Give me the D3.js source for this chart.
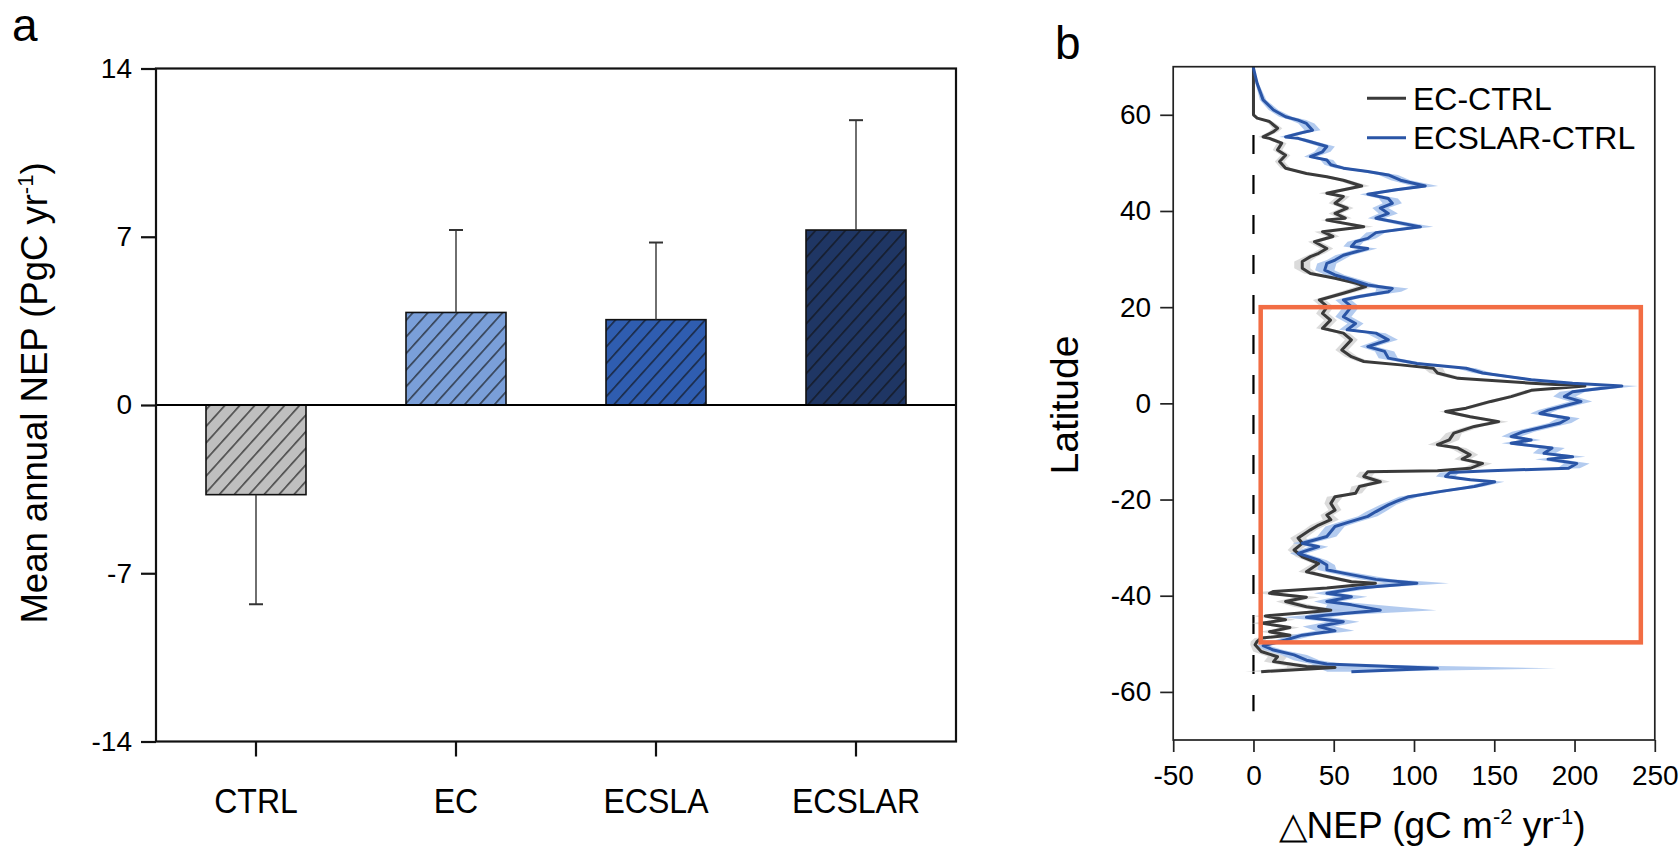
<!DOCTYPE html>
<html>
<head>
<meta charset="utf-8">
<script src="https://cdn.jsdelivr.net/npm/d3@7"></script>
<style>
  html, body { margin: 0; padding: 0; background: #fff; }
  svg text { font-family: "Liberation Sans", Arial, sans-serif; fill: #000; }
</style>
</head>
<body>
<svg id="chart" width="1679" height="847"></svg>
<script>
// ---------------- Panel a data ----------------
const categories = ["CTRL", "EC", "ECSLA", "ECSLAR"];
const meanNEP = [-3.73, 3.85, 3.55, 7.28];
const sdNEP = [4.56, 3.43, 3.21, 4.57];
const barColors = ["#bfbfbf", "#7a9fd9", "#2f5db0", "#1f3664"];
const yTicksA = [-14, -7, 0, 7, 14];

// ---------------- Panel b data ----------------
const ecLat = [70, 66, 62, 60, 59.3, 58.6, 57.2, 56.5, 55.4, 55.1, 54.1, 52.7, 51.6, 50.3, 48.9, 47.8, 47.1, 46.4, 45.2, 43.7,
  43.0, 41.6, 40.6, 39.5, 38.5, 38.1, 36.7, 35.7, 34.7, 33.6, 32.2, 31.2, 30.5, 29.5, 28.1, 27.0, 26.0, 25.0, 24.3, 22.9,
  21.5, 20.1, 18.7, 17.3, 15.6, 14.6, 13.2, 11.1, 9.7, 8.7, 8.0, 7.3, 6.3, 5.2, 4.2, 3.6, 2.7, 1.4, 0.4, -1.0,
  -1.7, -2.8, -3.8, -4.8, -6.2, -7.6, -8.6, -9.3, -10.7, -11.6, -12.5, -13.5, -14.0, -14.2, -15.2, -16.3, -17.3, -18.7, -19.4, -20.8,
  -22.2, -23.2, -24.2, -25.3, -26.3, -28.0, -29.1, -30.5, -31.9, -33.3, -35.0, -36.0, -37.1, -37.4, -38.4, -39.1, -39.5, -40.3, -41.2, -42.3,
  -43.0, -43.5, -44.2, -45.0, -45.7, -46.6, -47.5, -48.2, -48.8, -49.5, -50.2, -51.6, -52.7, -53.7, -54.7, -54.9, -55.8];
const ecVal = [0, 0, 0, 0, 2.3, 10, 15, 12.5, 6, 10, 17.6, 15, 20, 16.3, 20, 33, 45.7, 56, 67.4, 45.7,
  56, 50.8, 58.4, 50.8, 57.2, 45.7, 68.7, 43, 49.5, 38, 45.7, 40.6, 35.5, 30.4, 30.4, 35.5, 50.8, 63.6, 70, 56,
  41, 46, 43, 48, 43, 56, 61, 55, 61, 68.7, 91.6, 112, 114.6, 127.4, 173, 206.5, 173, 160.5, 147.8, 132.5,
  119.7, 135, 152.8, 137.6, 124.8, 122, 114.6, 127.4, 135, 130, 142.7, 135, 114.6, 71.2, 68.7, 79, 66, 63.6, 50.8, 48.2,
  50.8, 45.7, 48.2, 40.6, 35.5, 27.8, 30.4, 25.3, 30.4, 40.6, 33, 45.7, 61, 76, 45.7, 12.5, 10, 33, 20, 33,
  48.2, 33, 7.4, 20, 4.8, 22.7, 10, 22.7, 4.8, 2.3, 1, 4.8, 15, 12.5, 33, 50.8, 4.8];
const ecErr = [0, 0, 0, 0, 1, 2, 3, 3, 3, 3, 3, 3, 3, 3, 3, 3, 4, 4, 5, 5,
  4, 4, 4, 4, 4, 4, 6, 5, 4, 4, 4, 4, 4, 5, 5, 4, 4, 4, 6, 5,
  4, 4, 4, 4, 4, 4, 4, 4, 4, 4, 5, 6, 5, 5, 5, 5, 4, 4, 4, 4,
  4, 5, 6, 5, 5, 6, 6, 5, 5, 5, 6, 5, 5, 5, 5, 6, 5, 4, 5, 4,
  4, 4, 5, 5, 4, 5, 5, 4, 4, 4, 5, 5, 6, 8, 6, 6, 8, 8, 6, 8,
  10, 8, 8, 6, 6, 6, 6, 6, 4, 4, 3, 5, 6, 6, 12, 30, 10];

const ecslarLat = [70, 69.7, 66.5, 63.1, 61.0, 59.6, 58.9, 58.2, 56.8, 56.3, 55.4, 55.1, 54.4, 53.4, 52.3, 51.3, 50.6, 49.6, 48.9, 48.2,
  47.5, 46.4, 45.2, 44.4, 43.5, 42.6, 41.6, 40.6, 39.5, 38.5, 36.7, 35.5, 34.3, 33.6, 32.6, 32.2, 30.8, 29.8, 29.1, 27.7,
  26.7, 25.7, 24.6, 23.9, 23.2, 22.2, 21.5, 20.1, 18.0, 16.6, 15.3, 14.6, 13.2, 11.8, 10.8, 9.4, 8.3, 7.3, 6.3, 4.9,
  4.2, 3.6, 2.4, 1.4, 0.4, -1.4, -2.1, -3.1, -4.1, -5.9, -6.9, -7.6, -8.3, -9.3, -10.4, -11.1, -11.6, -12.5, -13.5, -14.0,
  -14.4, -15.2, -15.9, -16.3, -17.3, -18.3, -19.4, -20.4, -21.1, -22.5, -23.5, -24.8, -25.6, -27.7, -28.4, -29.1, -29.8, -31.2, -32.6, -33.6,
  -34.6, -35.3, -36.6, -37.4, -38.4, -39.5, -40.2, -41.2, -41.9, -43.0, -44.0, -44.5, -45.4, -46.4, -47.3, -48.2, -49.2, -50.4, -51.3, -52.3,
  -53.4, -54.2, -55.1, -55.8];
const ecslarVal = [0, 0, 2.3, 6, 12.5, 20, 27.8, 33, 36.8, 30.4, 20, 27.8, 35.5, 45.7, 43, 35.5, 45.7, 48.2, 56, 71.2,
  84, 91.6, 107, 89, 71.2, 84, 86.5, 79, 84, 76.3, 104, 76.3, 71.2, 63.6, 61, 71.2, 56, 50.8, 45.7, 44.4,
  50.8, 61, 71.2, 86.5, 84, 66, 56, 61, 56, 63.6, 58.4, 76.3, 84, 71.2, 81.7, 84, 101.8, 132.5, 142.7, 173,
  198.8, 229.5, 198.8, 193.7, 204, 183.5, 178.4, 196.3, 191, 168, 160.5, 173, 160.5, 186, 181, 198.8, 183.5, 201.4, 196.3, 147.8,
  122.3, 119.7, 135, 150.3, 137.6, 117.1, 96.7, 89, 84, 76.3, 71.2, 58.4, 50.8, 45.7, 38, 30.4, 40.6, 27.8, 40.6, 45.7,
  45.7, 56, 76.3, 101.8, 66, 45.7, 61, 45.7, 61, 79, 45.7, 33, 56, 40.6, 50.8, 30.4, 20, 6, 12.5, 25.3,
  33, 45.7, 114.6, 61];
const ecslarErr = [0, 0, 1, 2, 3, 4, 5, 5, 5, 4, 4, 4, 4, 5, 5, 4, 4, 4, 5, 5,
  6, 6, 8, 6, 5, 6, 6, 5, 6, 5, 8, 6, 5, 5, 5, 6, 5, 5, 6, 6,
  6, 6, 7, 10, 8, 6, 5, 5, 5, 5, 5, 6, 6, 5, 6, 6, 6, 6, 6, 6,
  7, 10, 8, 7, 7, 6, 6, 7, 7, 7, 6, 6, 6, 8, 7, 8, 8, 8, 7, 6,
  6, 6, 6, 6, 6, 6, 6, 5, 5, 6, 6, 6, 6, 6, 6, 6, 6, 5, 5, 5,
  6, 8, 10, 20, 10, 8, 10, 8, 15, 35, 12, 15, 10, 10, 12, 8, 6, 4, 6, 8,
  8, 10, 74, 15];

const xTicksB = [-50, 0, 50, 100, 150, 200, 250];
const yTicksB = [-60, -40, -20, 0, 20, 40, 60];
const boxLon = [4.5, 241.3];
const boxLat = [-49.7, 20];

// ---------------- drawing ----------------
const fmt = d => String(d); // plain hyphen-minus like the original
const svg = d3.select("#chart");
const defs = svg.append("defs");

barColors.forEach((c, i) => {
  const p = defs.append("pattern")
    .attr("id", "hatch" + i)
    .attr("patternUnits", "userSpaceOnUse")
    .attr("width", 11.1).attr("height", 11.1)
    .attr("patternTransform", "rotate(42)");
  p.append("rect").attr("width", 11.1).attr("height", 11.1).attr("fill", c);
  p.append("line").attr("x1", 5.5).attr("x2", 5.5).attr("y1", -1).attr("y2", 12.1)
    .attr("stroke", "#111").attr("stroke-width", 1.1);
});

// ---- Panel a ----
const ax = { left: 156, right: 956, top: 68.5, bottom: 741.5 };
const xA = d3.scaleBand().domain(categories).range([ax.left, ax.right]).paddingInner(0.5).paddingOuter(0.25);
const yA = d3.scaleLinear().domain([-14, 14]).range([ax.bottom, ax.top]);

const gA = svg.append("g");
gA.selectAll("rect.bar").data(categories).enter().append("rect")
  .attr("class", "bar")
  .attr("x", d => xA(d))
  .attr("width", xA.bandwidth())
  .attr("y", (d, i) => yA(Math.max(0, meanNEP[i])))
  .attr("height", (d, i) => Math.abs(yA(meanNEP[i]) - yA(0)))
  .attr("fill", (d, i) => "url(#hatch" + i + ")")
  .attr("stroke", "#111").attr("stroke-width", 1.6);

categories.forEach((c, i) => {
  const cx = xA(c) + xA.bandwidth() / 2;
  const v = meanNEP[i], e = sdNEP[i];
  const end = v >= 0 ? v + e : v - e;
  gA.append("line").attr("x1", cx).attr("x2", cx)
    .attr("y1", yA(v)).attr("y2", yA(end))
    .attr("stroke", "#333").attr("stroke-width", 1.4);
  gA.append("line").attr("x1", cx - 7).attr("x2", cx + 7)
    .attr("y1", yA(end)).attr("y2", yA(end))
    .attr("stroke", "#333").attr("stroke-width", 2);
});

gA.append("line").attr("x1", ax.left).attr("x2", ax.right)
  .attr("y1", yA(0)).attr("y2", yA(0)).attr("stroke", "#000").attr("stroke-width", 2.2);

gA.append("rect").attr("x", ax.left).attr("y", ax.top)
  .attr("width", ax.right - ax.left).attr("height", ax.bottom - ax.top)
  .attr("fill", "none").attr("stroke", "#111").attr("stroke-width", 2.2);

const yAxisA = d3.axisLeft(yA).tickValues(yTicksA).tickSize(15).tickPadding(9).tickFormat(fmt);
const gyA = gA.append("g").attr("transform", `translate(${ax.left},0)`).call(yAxisA);
gyA.select(".domain").remove();
gyA.selectAll("line").attr("stroke", "#111").attr("stroke-width", 2.2);
gyA.selectAll("text").attr("font-size", 28).attr("font-family", "Liberation Sans, Arial, sans-serif");

const xAxisA = d3.axisBottom(xA).tickSize(15).tickPadding(31);
const gxA = gA.append("g").attr("transform", `translate(0,${ax.bottom})`).call(xAxisA);
gxA.select(".domain").remove();
gxA.selectAll("line").attr("stroke", "#111").attr("stroke-width", 2.2);
gxA.selectAll("text").attr("font-size", 36).attr("transform", "scale(0.89,1)")
  .attr("font-family", "Liberation Sans, Arial, sans-serif");

const tA = svg.append("text").attr("transform", "translate(47,393) rotate(-90)")
  .attr("text-anchor", "middle").attr("font-size", 36.5);
tA.append("tspan").text("Mean annual NEP (PgC yr");
tA.append("tspan").attr("font-size", 22).attr("dy", -14).text("-1");
tA.append("tspan").attr("dy", 14).text(")");

svg.append("text").attr("x", 12).attr("y", 41).attr("font-size", 46).text("a");

// ---- Panel b ----
const bx = { left: 1173.2, right: 1654.8, top: 66.7, bottom: 740 };
const xB = d3.scaleLinear().domain([-50, 250]).range([bx.left, bx.right]);
const yB = d3.scaleLinear().domain([-70, 70]).range([bx.bottom, bx.top]);
const gB = svg.append("g");

gB.append("line").attr("x1", xB(0)).attr("x2", xB(0))
  .attr("y1", yB(70)).attr("y2", yB(-64))
  .attr("stroke", "#000").attr("stroke-width", 2.2)
  .attr("stroke-dasharray", "19,21").attr("stroke-dashoffset", 11.7);

const ecData = ecLat.map((la, i) => ({ lat: la, v: ecVal[i], e: ecErr[i] }));
const slData = ecslarLat.map((la, i) => ({ lat: la, v: ecslarVal[i], e: ecslarErr[i] }));

const band = d3.area().y(d => yB(d.lat)).x0(d => xB(d.v - d.e)).x1(d => xB(d.v + d.e));
const line = d3.line().y(d => yB(d.lat)).x(d => xB(d.v));

gB.append("path").datum(ecData).attr("d", band).attr("fill", "#cfcfcf").attr("opacity", 0.75);
gB.append("path").datum(slData).attr("d", band).attr("fill", "#a6c2ec").attr("opacity", 0.85);
gB.append("path").datum(ecData).attr("d", line).attr("fill", "none")
  .attr("stroke", "#3a3a3a").attr("stroke-width", 3).attr("stroke-linejoin", "round");
gB.append("path").datum(slData).attr("d", line).attr("fill", "none")
  .attr("stroke", "#2a55a6").attr("stroke-width", 3).attr("stroke-linejoin", "round");

gB.append("rect")
  .attr("x", xB(boxLon[0])).attr("y", yB(boxLat[1]))
  .attr("width", xB(boxLon[1]) - xB(boxLon[0]))
  .attr("height", yB(boxLat[0]) - yB(boxLat[1]))
  .attr("fill", "none").attr("stroke", "#f26d44").attr("stroke-width", 4.5);

gB.append("rect").attr("x", bx.left).attr("y", bx.top)
  .attr("width", bx.right - bx.left).attr("height", bx.bottom - bx.top)
  .attr("fill", "none").attr("stroke", "#222").attr("stroke-width", 1.7);

const yAxisB = d3.axisLeft(yB).tickValues(yTicksB).tickSize(13).tickPadding(9).tickFormat(fmt);
const gyB = gB.append("g").attr("transform", `translate(${bx.left},0)`).call(yAxisB);
gyB.select(".domain").remove();
gyB.selectAll("line").attr("stroke", "#222").attr("stroke-width", 1.7);
gyB.selectAll("text").attr("font-size", 28).attr("font-family", "Liberation Sans, Arial, sans-serif");

const xAxisB = d3.axisBottom(xB).tickValues(xTicksB).tickSize(12).tickPadding(13).tickFormat(fmt);
const gxB = gB.append("g").attr("transform", `translate(0,${bx.bottom})`).call(xAxisB);
gxB.select(".domain").remove();
gxB.selectAll("line").attr("stroke", "#222").attr("stroke-width", 1.7);
gxB.selectAll("text").attr("font-size", 28).attr("font-family", "Liberation Sans, Arial, sans-serif");

const legendItems = [
  { label: "EC-CTRL", color: "#3a3a3a", y: 98.3 },
  { label: "ECSLAR-CTRL", color: "#2a55a6", y: 137.7 }
];
legendItems.forEach(it => {
  gB.append("line").attr("x1", 1367).attr("x2", 1406).attr("y1", it.y).attr("y2", it.y)
    .attr("stroke", it.color).attr("stroke-width", 3);
  gB.append("text").attr("x", 1413).attr("y", it.y + 11.5).attr("font-size", 32).text(it.label);
});

svg.append("text").attr("transform", "translate(1078,405) rotate(-90)")
  .attr("text-anchor", "middle").attr("font-size", 39).text("Latitude");

const tB = svg.append("text").attr("x", 1432).attr("y", 838).attr("text-anchor", "middle").attr("font-size", 37);
tB.append("tspan").text("△NEP (gC m");
tB.append("tspan").attr("font-size", 22).attr("dy", -14).text("-2");
tB.append("tspan").attr("dy", 14).text(" yr");
tB.append("tspan").attr("font-size", 22).attr("dy", -14).text("-1");
tB.append("tspan").attr("dy", 14).text(")");

svg.append("text").attr("x", 1055).attr("y", 59).attr("font-size", 46).text("b");
</script>
</body>
</html>
